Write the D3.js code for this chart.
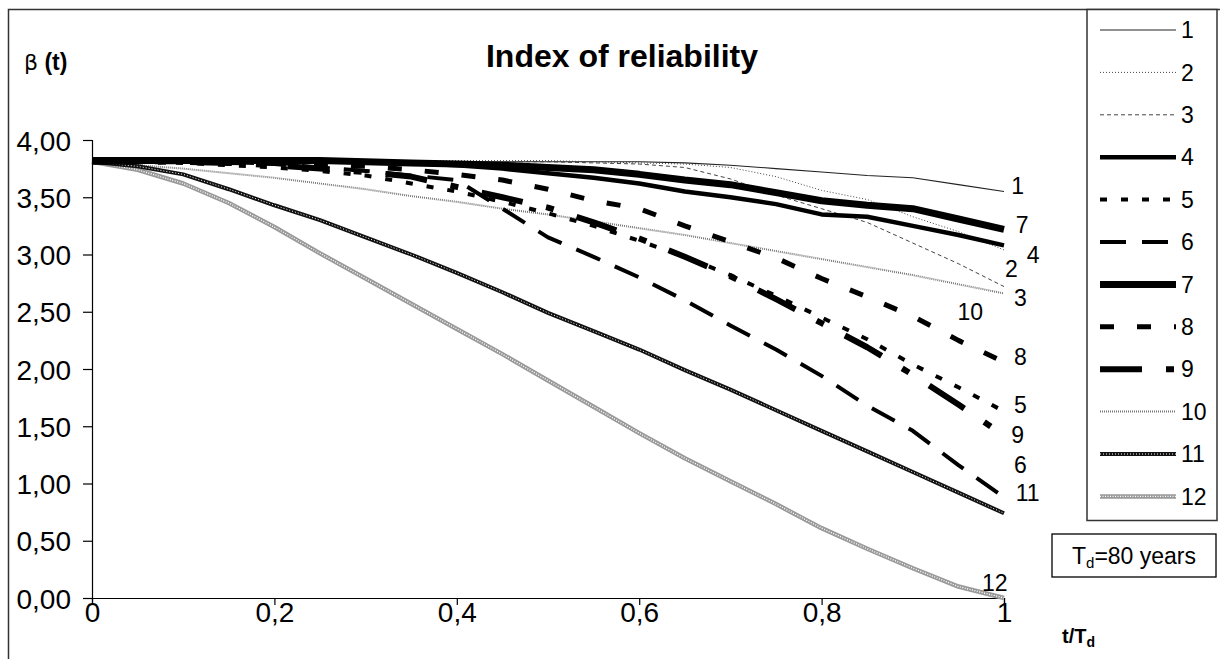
<!DOCTYPE html>
<html>
<head>
<meta charset="utf-8">
<script src="https://cdn.jsdelivr.net/npm/d3@7"></script>
<style>
  body { margin: 0; background: #fff; }
  svg { font-family: "Liberation Sans", Arial, sans-serif; }
</style>
</head>
<body>
<svg id="chart" width="1220" height="659"></svg>
<script>
// t / Td values shared by all curves
var tValues = [0, 0.05, 0.1, 0.15, 0.2, 0.25, 0.3, 0.35, 0.4, 0.45, 0.5,
               0.55, 0.6, 0.65, 0.7, 0.75, 0.8, 0.85, 0.9, 0.95, 1];

var beta1  = [3.81,3.81,3.81,3.81,3.81,3.81,3.81,3.81,3.81,3.81,3.81,3.81,3.81,3.80,3.78,3.75,3.72,3.69,3.67,3.61,3.55];
var beta2  = [3.82,3.82,3.82,3.82,3.82,3.82,3.82,3.82,3.82,3.82,3.82,3.81,3.80,3.79,3.76,3.68,3.56,3.48,3.33,3.20,3.04];
var beta3  = [3.81,3.81,3.81,3.81,3.81,3.81,3.81,3.81,3.81,3.81,3.81,3.80,3.79,3.76,3.66,3.52,3.40,3.28,3.10,2.92,2.72];
var beta4  = [3.81,3.81,3.81,3.81,3.81,3.81,3.81,3.80,3.78,3.75,3.71,3.67,3.62,3.55,3.50,3.44,3.35,3.33,3.25,3.17,3.08];
var beta5  = [3.81,3.81,3.80,3.78,3.76,3.73,3.69,3.62,3.55,3.46,3.36,3.25,3.12,2.98,2.82,2.64,2.45,2.26,2.04,1.84,1.63];
var beta6  = [3.81,3.81,3.81,3.80,3.79,3.76,3.73,3.69,3.65,3.40,3.15,2.98,2.80,2.60,2.38,2.17,1.94,1.68,1.46,1.16,0.88];
var beta7  = [3.82,3.82,3.82,3.82,3.82,3.82,3.81,3.80,3.79,3.78,3.76,3.74,3.70,3.65,3.61,3.54,3.47,3.43,3.40,3.31,3.22];
var beta8  = [3.81,3.81,3.81,3.81,3.80,3.79,3.77,3.74,3.70,3.65,3.57,3.47,3.40,3.25,3.11,2.97,2.79,2.63,2.46,2.25,2.06];
var beta9  = [3.81,3.81,3.81,3.80,3.78,3.75,3.72,3.68,3.59,3.50,3.41,3.28,3.14,2.98,2.81,2.61,2.40,2.19,1.95,1.69,1.42];
var beta10 = [3.81,3.78,3.75,3.71,3.67,3.62,3.57,3.51,3.46,3.40,3.35,3.29,3.23,3.17,3.10,3.03,2.96,2.89,2.82,2.74,2.66];
var beta11 = [3.81,3.77,3.70,3.57,3.43,3.30,3.15,3.00,2.84,2.67,2.49,2.33,2.17,1.99,1.82,1.64,1.46,1.28,1.10,0.92,0.74];
var beta12 = [3.81,3.74,3.62,3.45,3.24,3.01,2.79,2.57,2.35,2.13,1.90,1.67,1.44,1.22,1.02,0.82,0.61,0.43,0.26,0.10,0.00];

var seriesNames = ["1","2","3","4","5","6","7","8","9","10","11","12"];
var seriesValues = [beta1, beta2, beta3, beta4, beta5, beta6, beta7, beta8, beta9, beta10, beta11, beta12];

var xTicks = [0, 0.2, 0.4, 0.6, 0.8, 1];
var yTicks = [0, 0.5, 1, 1.5, 2, 2.5, 3, 3.5, 4];

// where the curve numbers are written next to the line ends (data units)
var endLabels = [
  {name:"1",  t:1.015, b:3.60}, {name:"7",  t:1.020, b:3.26},
  {name:"4",  t:1.032, b:3.00}, {name:"2",  t:1.008, b:2.88},
  {name:"3",  t:1.018, b:2.62}, {name:"10", t:0.963, b:2.50},
  {name:"8",  t:1.018, b:2.11}, {name:"5",  t:1.018, b:1.69},
  {name:"9",  t:1.015, b:1.43}, {name:"6",  t:1.018, b:1.16},
  {name:"11", t:1.026, b:0.92}, {name:"12", t:0.990, b:0.13}
];

// line looks, one per curve
var styles = [
  {color:"#222", width:1.1, dash:null},
  {color:"#444", width:1,   dash:"1,2"},
  {color:"#444", width:1,   dash:"4,3"},
  {color:"#000", width:4.5, dash:null},
  {color:"#000", width:4,   dash:"7,14"},
  {color:"#000", width:4,   dash:"26,16"},
  {color:"#000", width:7,   dash:null},
  {color:"#000", width:5,   dash:"14,23"},
  {color:"#000", width:6,   dash:"42,24,8,24"},
  {color:"#777", width:2,   dash:"1,1"},
  {color:"#111", width:4,   dash:null, over:"1,2", overW:1},
  {color:"#999", width:4.5, dash:null, over:"1,1.5", overW:1.4}
];

var svg = d3.select("#chart");

var x = d3.scaleLinear().domain([0, 1]).range([92, 1004]);
var y = d3.scaleLinear().domain([0, 4]).range([598, 140]);

// frame of the chart area
svg.append("path")
  .attr("d", "M8.5,670 L8.5,9.5 L1230,9.5")
  .attr("fill", "none").attr("stroke", "#333").attr("stroke-width", 1.5);

// title and y label
svg.append("text").attr("x", 622).attr("y", 67)
  .attr("text-anchor", "middle").attr("font-size", 32).attr("font-weight", "bold")
  .text("Index of reliability");

var yl = svg.append("text").attr("x", 24).attr("y", 70).attr("font-size", 23);
yl.append("tspan").attr("font-family", "DejaVu Sans").attr("font-size", 22).text("β");
yl.append("tspan").attr("font-weight", "bold").text(" (t)");

// axes
var yAxis = svg.append("g").attr("transform", "translate(92,0)")
  .call(d3.axisLeft(y).tickValues(yTicks).tickSize(9).tickPadding(12)
    .tickFormat(function(d) { return d3.format(".2f")(d).replace(".", ","); }));
var xAxis = svg.append("g").attr("transform", "translate(0,598)")
  .call(d3.axisBottom(x).tickValues(xTicks).tickSize(7)
    .tickFormat(function(d) { return d === 0 || d === 1 ? String(d) : String(d).replace(".", ","); }));

[yAxis, xAxis].forEach(function(ax) {
  ax.select(".domain").attr("stroke", "#000").attr("stroke-width", 1.2);
  ax.selectAll(".tick line").attr("stroke", "#000").attr("stroke-width", 1.2);
  ax.selectAll(".tick text").attr("fill", "#000").attr("font-size", 28)
    .attr("font-family", "\"Liberation Sans\", Arial, sans-serif");
});
yAxis.selectAll(".tick text").attr("dy", "0.36em");
xAxis.selectAll(".tick text").attr("y", 24).attr("dy", 0);

var xt = svg.append("text").attr("x", 1062).attr("y", 643)
  .attr("font-size", 20).attr("font-weight", "bold");
xt.append("tspan").text("t/T");
xt.append("tspan").attr("font-size", 14).attr("dy", 4).text("d");

// curves
var line = d3.line()
  .x(function(d) { return x(d[0]); })
  .y(function(d) { return y(d[1]); });

var order = [9, 11, 10, 0, 1, 2, 3, 6, 7, 4, 8, 5];
order.forEach(function(i) {
  var pts = tValues.map(function(t, k) { return [t, seriesValues[i][k]]; });
  var st = styles[i];
  svg.append("path").datum(pts)
    .attr("d", line)
    .attr("fill", "none")
    .attr("stroke", st.color)
    .attr("stroke-width", st.width)
    .attr("stroke-dasharray", st.dash)
    .attr("stroke-linejoin", "round");
  if (st.over) {
    svg.append("path").datum(pts)
      .attr("d", line)
      .attr("fill", "none")
      .attr("stroke", "#fff")
      .attr("stroke-width", st.overW)
      .attr("stroke-dasharray", st.over);
  }
});

svg.selectAll("text.endlab").data(endLabels).enter().append("text")
  .attr("class", "endlab")
  .attr("x", function(d) { return x(d.t); })
  .attr("y", function(d) { return y(d.b); })
  .attr("text-anchor", "middle").attr("dy", "0.36em")
  .attr("font-size", 23)
  .text(function(d) { return d.name; });

// legend
var lg = svg.append("g");
lg.append("rect").attr("x", 1087).attr("y", 9.5).attr("width", 130).attr("height", 511)
  .attr("fill", "#fff").attr("stroke", "#333").attr("stroke-width", 1.5);

seriesNames.forEach(function(name, i) {
  var cy = 30 + i * 42.4;
  var st = styles[i];
  lg.append("line").attr("x1", 1100).attr("x2", 1176).attr("y1", cy).attr("y2", cy)
    .attr("stroke", st.color).attr("stroke-width", st.width)
    .attr("stroke-dasharray", st.dash);
  if (st.over) {
    lg.append("line").attr("x1", 1100).attr("x2", 1176).attr("y1", cy).attr("y2", cy)
      .attr("stroke", "#fff").attr("stroke-width", st.overW)
      .attr("stroke-dasharray", st.over);
  }
  lg.append("text").attr("x", 1181).attr("y", cy).attr("dy", "0.36em")
    .attr("font-size", 23).text(name);
});

// design life box
svg.append("rect").attr("x", 1052).attr("y", 534).attr("width", 164).attr("height", 43)
  .attr("fill", "#fff").attr("stroke", "#000").attr("stroke-width", 1.3);
var td = svg.append("text").attr("x", 1134).attr("y", 564)
  .attr("text-anchor", "middle").attr("font-size", 23);
td.append("tspan").text("T");
td.append("tspan").attr("font-size", 15).attr("dy", 4).text("d");
td.append("tspan").attr("dy", -4).text("=80 years");
</script>
</body>
</html>
